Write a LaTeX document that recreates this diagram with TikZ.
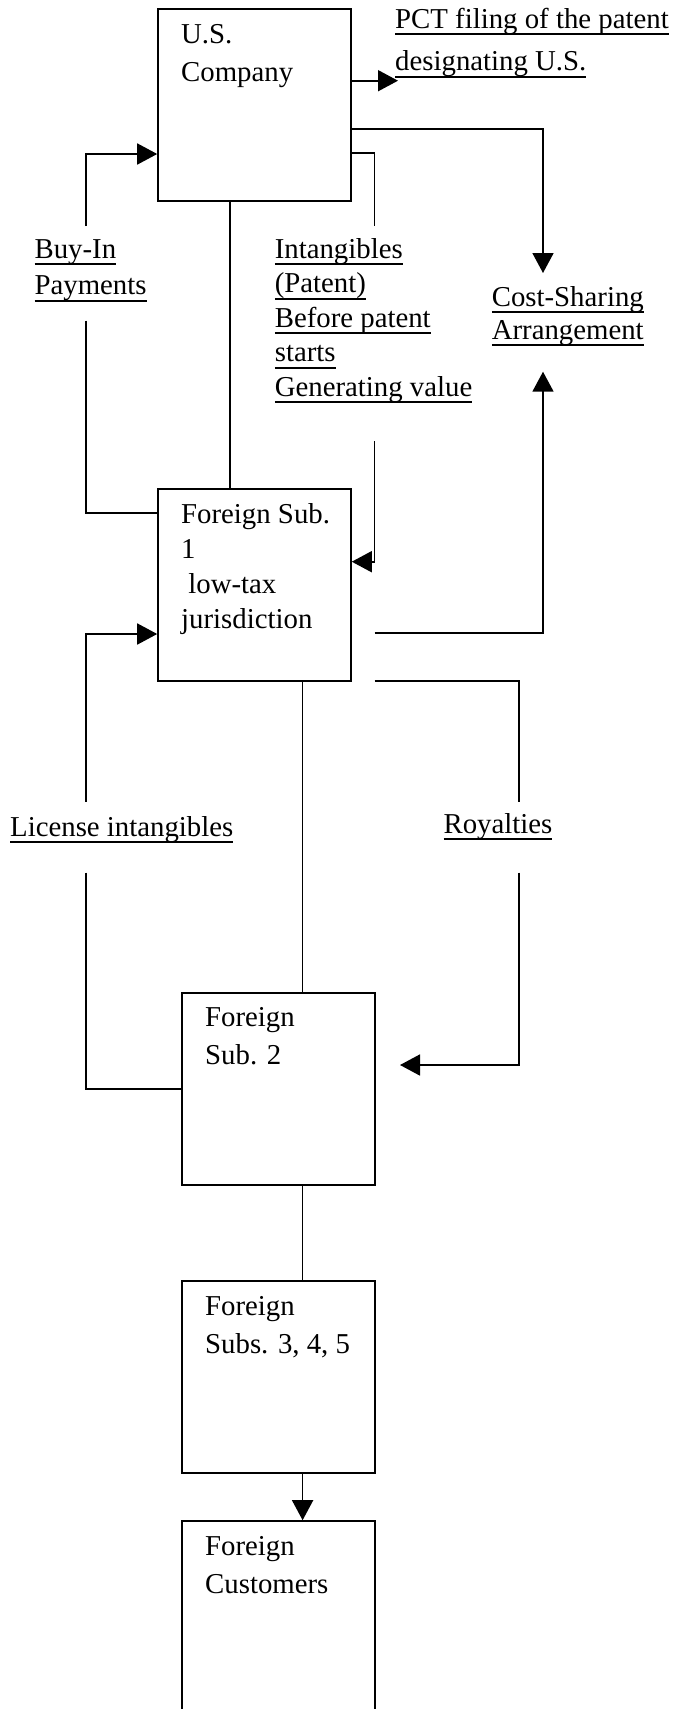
\documentclass[tikz,border=0pt]{standalone}
\usepackage{fontspec}
\setmainfont{Liberation Serif}
\usetikzlibrary{arrows.meta}
\newcommand{\myul}[1]{\setbox0\hbox{#1}\rlap{\rule[-6.8pt]{\wd0}{1.8pt}}\box0}
\newcommand{\myfs}[1]{\fontsize{28.8}{#1}\selectfont}
\tikzset{
  box/.style={draw, line width=1.6pt, minimum width=193pt, minimum height=192pt, inner sep=0pt},
  conn/.style={line width=1.7pt},
  arr/.style={conn, -{Triangle[length=20pt,width=21pt]}},
  txt/.style={anchor=north west, inner sep=0pt, align=left},
}
\begin{document}
\begin{tikzpicture}[x=1pt,y=-1pt]
\useasboundingbox[fill=white] (0,0) rectangle (673,1709);
% boxes
\node[box] (us)   at (254.5,105) {};
\node[box] (fs1)  at (254.5,585) {};
\node[box] (fs2)  at (278.5,1089) {};
\node[box] (fs3)  at (278.5,1377) {};
\node[box] (cust) at (278.5,1617) {};
% box texts
\node[txt, font=\myfs{38}] (tus) at (181,16.7) {\strut U.S.\\\strut Company};
\node[txt, font=\myfs{35}] (tfs1) at (181,498.8) {\strut Foreign Sub.\\\strut 1\\\strut\ low-tax\\\strut jurisdiction};
\node[txt, font=\myfs{38}] (tfs2) at (205,1000.1) {\strut Foreign\\\strut Sub. 2};
\node[txt, font=\myfs{38}] (tfs3) at (205,1288.4) {\strut Foreign\\\strut Subs. 3, 4, 5};
\node[txt, font=\myfs{38}] (tcust) at (205,1528.4) {\strut Foreign\\\strut Customers};
% labels
\node[txt, font=\myfs{42.5}] (pct) at (395,-1.75) {\strut\myul{PCT filing of the patent}\\\strut\myul{designating U.S.}};
\node[txt, font=\myfs{36.5}] (buyin) at (34.4,232.45) {\strut\myul{Buy-In}\\\strut\myul{Payments}};
\node[txt, font=\myfs{34.5}] (intang) at (274.6,233.85) {\strut\myul{Intangibles}\\\strut\myul{(Patent)}\\\strut\myul{Before patent}\\\strut\myul{starts}\\\strut\myul{Generating value}};
\node[txt, font=\myfs{33}] (csa) at (491.6,282.9) {\strut\myul{Cost-Sharing}\\\strut\myul{Arrangement}};
\node[txt, font=\myfs{34}] (lic) at (10,812.2) {\strut\myul{License intangibles}};
\node[txt, font=\myfs{34}] (roy) at (443.4,809.2) {\strut\myul{Royalties}};
% free-end coordinates
\coordinate (pctEnd) at (398,80.7);
\coordinate (csaTop) at (543,273);
\coordinate (csaBot) at (543,371.7);
\coordinate (csaStart) at (374.5,632.7);
\coordinate (intA) at (374.5,226);
\coordinate (intB) at (374.5,441);
\coordinate (buyA) at (86,226);
\coordinate (buyB) at (86,320.7);
\coordinate (licA) at (86,801.7);
\coordinate (licB) at (86,872.7);
\coordinate (royA) at (518.7,801.7);
\coordinate (royB) at (518.7,872.7);
\coordinate (royStart) at (374.5,681);
\coordinate (royEnd) at (400,1065);
% connectors
\draw[arr] (us.east |- pctEnd) -- (pctEnd);
\draw[arr] (us.east |- 0,129) -| (csaTop);
\draw[conn] (us.east |- 0,153) -| (intA);
\draw[arr] (intB) |- (fs1.east |- 0,561.7);
\draw[arr] (buyA) |- (us.west |- 0,154);
\draw[conn] (buyB) |- (fs1.west |- 0,513);
\draw[arr] (csaStart) -| (csaBot);
\draw[arr] (licA) |- (fs1.west |- 0,634);
\draw[conn] (licB) |- (fs2.west |- 0,1088.7);
\draw[conn] (royStart) -| (royA);
\draw[arr] (royB) |- (royEnd);
\draw[conn] (us.south -| 230,0) -- (fs1.north -| 230,0);
\draw[conn] (fs1.south -| 302.6,0) -- (fs2.north -| 302.6,0);
\draw[conn] (fs2.south -| 302.6,0) -- (fs3.north -| 302.6,0);
\draw[arr] (fs3.south -| 302.6,0) -- (cust.north -| 302.6,0);
\end{tikzpicture}
\end{document}
